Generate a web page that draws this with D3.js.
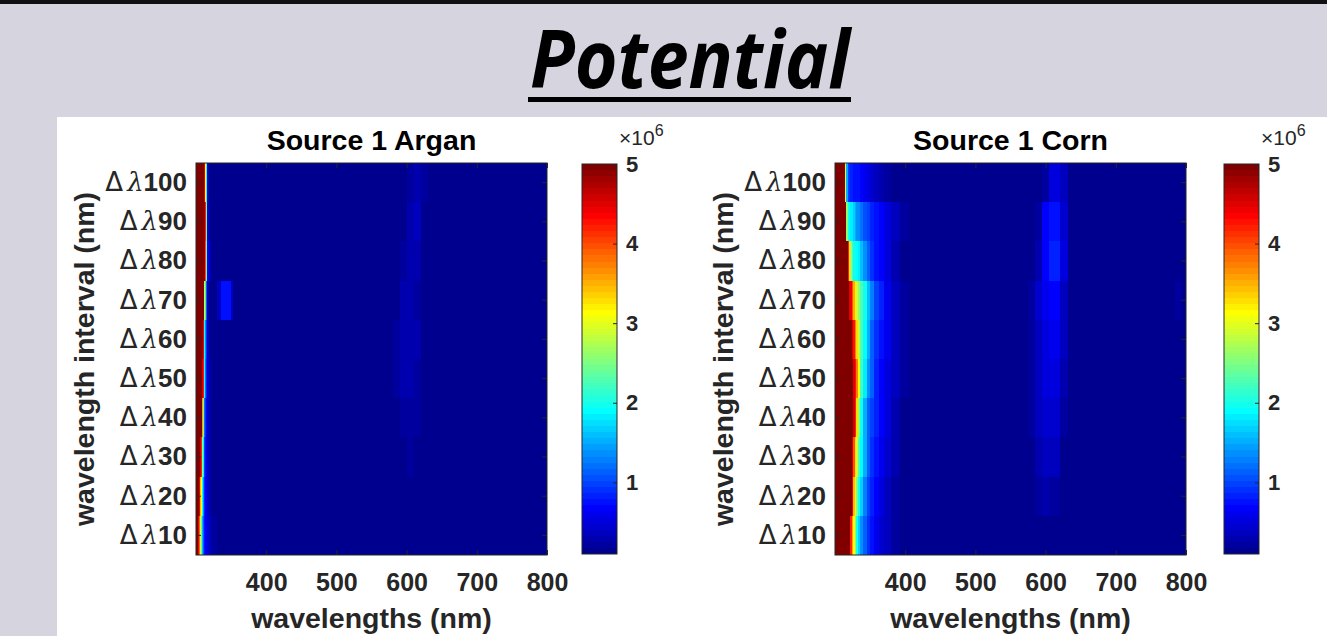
<!DOCTYPE html>
<html>
<head>
<meta charset="utf-8">
<script src="https://cdn.jsdelivr.net/npm/d3@7"></script>
<style>
  body { margin: 0; background: #d6d4df; }
  svg { display: block; font-family: "Liberation Sans", Arial, sans-serif; }
</style>
</head>
<body>
<svg id="chart" width="1327" height="636"></svg>
<script>
// rows of both maps, top to bottom (Δλ100 ... Δλ10)
const rowLabels = [100, 90, 80, 70, 60, 50, 40, 30, 20, 10];
const xTicks = [400, 500, 600, 700, 800];
const cbTicks = [1, 2, 3, 4, 5];
const cRange = [0.1, 5];   // colour limits, x10^6

// Source 1 Argan: left edge (nm) of each column, last column runs to 800
const arganWl = [300, 302, 303, 304, 305, 306, 307, 308, 309, 310, 311, 312, 313, 314, 315, 316, 318, 320, 323, 330, 335, 350, 353, 580, 590, 600, 610, 620, 630];
const arganRows = [
  [5.2, 5.2, 5.2, 5.2, 5.2, 5.2, 5.2, 5.2, 5.2, 5.2, 5.2, 4.6, 3.1, 1.9, 0.8, 0.3, 0.14, 0.12, 0.12, 0.12, 0.12, 0.12, 0.12, 0.12, 0.14, 0.25, 0.3, 0.18, 0.12],
  [5.2, 5.2, 5.2, 5.2, 5.2, 5.2, 5.2, 5.2, 5.2, 5.2, 5.2, 5.2, 4.2, 2.4, 1.2, 0.45, 0.18, 0.13, 0.12, 0.12, 0.12, 0.12, 0.12, 0.12, 0.15, 0.3, 0.33, 0.15, 0.12],
  [5.2, 5.2, 5.2, 5.2, 5.2, 5.2, 5.2, 5.2, 5.2, 5.2, 5.2, 5.2, 4.0, 2.4, 1.3, 0.7, 0.35, 0.2, 0.15, 0.12, 0.12, 0.12, 0.12, 0.12, 0.18, 0.32, 0.3, 0.14, 0.12],
  [5.2, 5.2, 5.2, 5.2, 5.2, 5.2, 5.2, 5.2, 5.2, 5.2, 4.4, 3.2, 2.0, 1.1, 0.6, 0.3, 0.16, 0.13, 0.12, 0.35, 0.72, 0.4, 0.12, 0.15, 0.3, 0.32, 0.2, 0.12, 0.12],
  [5.2, 5.2, 5.2, 5.2, 5.2, 5.2, 5.2, 5.2, 5.2, 4.4, 3.3, 2.0, 1.4, 0.9, 0.6, 0.4, 0.25, 0.17, 0.13, 0.12, 0.12, 0.12, 0.12, 0.25, 0.3, 0.3, 0.28, 0.12, 0.12],
  [5.2, 5.2, 5.2, 5.2, 5.2, 5.2, 5.2, 5.2, 4.6, 4.3, 3.2, 2.0, 1.2, 0.8, 0.6, 0.45, 0.3, 0.2, 0.14, 0.12, 0.12, 0.12, 0.12, 0.25, 0.3, 0.3, 0.25, 0.12, 0.12],
  [5.2, 5.2, 5.2, 5.2, 5.2, 5.2, 5.0, 4.4, 3.6, 2.6, 1.9, 1.2, 0.9, 0.7, 0.55, 0.4, 0.28, 0.2, 0.14, 0.12, 0.12, 0.12, 0.12, 0.15, 0.22, 0.25, 0.18, 0.12, 0.12],
  [5.2, 5.2, 5.2, 5.2, 5.2, 4.6, 4.2, 3.3, 2.6, 1.9, 1.4, 1.0, 0.75, 0.6, 0.5, 0.4, 0.3, 0.22, 0.15, 0.12, 0.12, 0.12, 0.12, 0.12, 0.15, 0.2, 0.15, 0.12, 0.12],
  [5.2, 5.2, 5.2, 4.5, 4.0, 3.4, 3.1, 2.4, 1.9, 1.4, 1.0, 0.8, 0.7, 0.6, 0.5, 0.4, 0.3, 0.22, 0.16, 0.12, 0.12, 0.12, 0.12, 0.12, 0.12, 0.14, 0.12, 0.12, 0.12],
  [5.2, 5.0, 4.4, 3.9, 3.3, 2.9, 2.3, 1.9, 1.5, 1.1, 0.9, 0.75, 0.65, 0.6, 0.5, 0.45, 0.35, 0.27, 0.2, 0.13, 0.12, 0.12, 0.12, 0.12, 0.12, 0.12, 0.12, 0.12, 0.12]
];

// Source 1 Corn
const cornWl = [300, 314, 316, 318, 320, 322, 324, 326, 328, 330, 333, 336, 340, 345, 350, 356, 362, 370, 380, 392, 405, 575, 585, 595, 605, 620, 632, 775, 785, 795];
const cornRows = [
  [5.2, 3.0, 1.5, 0.95, 0.88, 0.84, 0.8, 0.78, 0.76, 0.74, 0.72, 0.68, 0.6, 0.52, 0.45, 0.38, 0.3, 0.22, 0.16, 0.13, 0.12, 0.12, 0.12, 0.2, 0.5, 0.35, 0.12, 0.12, 0.13, 0.12],
  [5.2, 5.2, 2.6, 1.95, 1.9, 1.85, 1.8, 1.7, 1.5, 1.4, 1.35, 1.2, 1.05, 0.95, 0.8, 0.72, 0.65, 0.5, 0.35, 0.2, 0.12, 0.12, 0.25, 0.65, 0.78, 0.45, 0.12, 0.12, 0.14, 0.12],
  [5.2, 5.2, 5.0, 4.2, 3.3, 2.7, 2.2, 2.0, 1.95, 1.9, 1.8, 1.6, 1.35, 1.1, 0.9, 0.75, 0.65, 0.5, 0.3, 0.15, 0.12, 0.15, 0.3, 0.7, 0.8, 0.55, 0.12, 0.12, 0.15, 0.12],
  [5.2, 5.2, 5.2, 5.0, 4.5, 4.4, 4.0, 3.5, 3.2, 2.9, 2.6, 2.3, 2.0, 1.6, 1.25, 1.0, 0.8, 0.6, 0.35, 0.18, 0.12, 0.2, 0.45, 0.6, 0.65, 0.4, 0.12, 0.15, 0.2, 0.15],
  [5.2, 5.2, 5.2, 5.2, 5.1, 5.0, 4.6, 4.3, 3.7, 3.3, 2.8, 2.3, 1.9, 1.5, 1.15, 0.9, 0.75, 0.6, 0.4, 0.2, 0.12, 0.2, 0.4, 0.55, 0.6, 0.35, 0.12, 0.12, 0.14, 0.12],
  [5.2, 5.2, 5.2, 5.2, 5.2, 5.2, 5.0, 4.5, 4.3, 3.7, 3.1, 2.2, 1.8, 1.4, 1.1, 0.85, 0.7, 0.55, 0.35, 0.18, 0.12, 0.2, 0.4, 0.5, 0.55, 0.3, 0.12, 0.12, 0.13, 0.12],
  [5.2, 5.2, 5.2, 5.2, 5.2, 5.2, 5.2, 4.6, 4.2, 3.3, 2.6, 2.0, 1.5, 1.15, 0.95, 0.8, 0.65, 0.5, 0.3, 0.15, 0.12, 0.18, 0.35, 0.45, 0.45, 0.2, 0.12, 0.12, 0.13, 0.12],
  [5.2, 5.2, 5.2, 5.2, 5.2, 5.2, 4.6, 4.0, 3.3, 2.9, 2.3, 1.9, 1.5, 1.1, 0.9, 0.75, 0.6, 0.45, 0.28, 0.14, 0.12, 0.15, 0.3, 0.4, 0.35, 0.15, 0.12, 0.12, 0.12, 0.12],
  [5.2, 5.2, 5.2, 5.2, 5.2, 5.0, 4.4, 3.4, 3.0, 2.5, 2.0, 1.7, 1.3, 1.0, 0.85, 0.7, 0.55, 0.4, 0.25, 0.13, 0.12, 0.12, 0.2, 0.3, 0.25, 0.13, 0.12, 0.12, 0.12, 0.12],
  [5.2, 5.2, 5.2, 5.2, 5.0, 4.2, 3.6, 3.1, 2.6, 2.0, 1.7, 1.4, 1.1, 0.9, 0.75, 0.6, 0.45, 0.35, 0.22, 0.13, 0.12, 0.12, 0.14, 0.15, 0.14, 0.12, 0.12, 0.12, 0.12, 0.12]
];

const panels = [
  { title: 'Source 1 Argan', wl: arganWl, rows: arganRows, x0: 196, cb: 582 },
  { title: 'Source 1 Corn', wl: cornWl, rows: cornRows, x0: 835, cb: 1224 }
];

// matlab jet(64)
function jetColors(m) {
  const n = Math.ceil(m / 4);
  const u = [];
  for (let i = 1; i <= n; i++) u.push(i / n);
  for (let i = 1; i < n; i++) u.push(1);
  for (let i = n; i >= 1; i--) u.push(i / n);
  const g0 = Math.ceil(n / 2) - (m % 4 === 1 ? 1 : 0);
  const R = new Array(m).fill(0), G = new Array(m).fill(0), B = new Array(m).fill(0);
  u.forEach((v, k) => {
    const gi = g0 + k + 1, ri = gi + n, bi = gi - n;
    if (gi >= 1 && gi <= m) G[gi - 1] = v;
    if (ri >= 1 && ri <= m) R[ri - 1] = v;
    if (bi >= 1 && bi <= m) B[bi - 1] = v;
  });
  return d3.range(m).map(i => d3.rgb(R[i] * 255, G[i] * 255, B[i] * 255).formatHex());
}
const jet = jetColors(64);
const color = d3.scaleQuantize().domain(cRange).range(jet);

const ink = '#262626';
const svg = d3.select('#chart');

// slide background, top rule and white panel
svg.append('rect').attr('width', 1327).attr('height', 636).attr('fill', '#d6d4df');
svg.append('rect').attr('width', 1327).attr('height', 4).attr('fill', '#111');
svg.append('rect').attr('x', 57).attr('y', 117).attr('width', 1270).attr('height', 519).attr('fill', '#fff');

// slide title
svg.append('text')
  .attr('x', 690).attr('y', 88)
  .attr('text-anchor', 'middle')
  .attr('font-family', '"Open Sans", sans-serif')
  .attr('font-style', 'italic').attr('font-weight', 700)
  .attr('font-size', 80)
  .attr('textLength', 320).attr('lengthAdjust', 'spacingAndGlyphs')
  .attr('fill', '#000')
  .text('Potential');
svg.append('rect').attr('x', 528).attr('y', 97).attr('width', 323).attr('height', 5).attr('fill', '#000');

const W = 351, plotTop = 163, plotBottom = 555;
const cbW = 35, cbTop = 164, cbBottom = 554;

panels.forEach(p => {
  const x = d3.scaleLinear().domain([300, 800]).range([p.x0, p.x0 + W]);
  const y = d3.scaleBand().domain(rowLabels).range([plotTop, plotBottom]);
  const g = svg.append('g');

  // heat cells
  const cells = g.append('g').attr('shape-rendering', 'crispEdges');
  p.rows.forEach((vals, ri) => {
    vals.forEach((v, ci) => {
      const a = p.wl[ci];
      const b = ci < p.wl.length - 1 ? p.wl[ci + 1] : 800;
      cells.append('rect')
        .attr('x', x(a))
        .attr('y', y(rowLabels[ri]))
        .attr('width', x(b) - x(a))
        .attr('height', y.bandwidth())
        .attr('fill', color(v));
    });
  });

  // axes, ticks pointing inward
  const axB = g.append('g').attr('transform', `translate(0,${plotBottom})`)
    .call(d3.axisBottom(x).tickValues(xTicks).tickSizeInner(-5).tickSizeOuter(0).tickPadding(18));
  const axT = g.append('g').attr('transform', `translate(0,${plotTop})`)
    .call(d3.axisTop(x).tickValues(xTicks).tickSizeInner(-5).tickSizeOuter(0).tickFormat(''));
  const axL = g.append('g').attr('transform', `translate(${p.x0},0)`)
    .call(d3.axisLeft(y).tickSizeInner(-5).tickSizeOuter(0).tickPadding(9).tickFormat(''));
  const axR = g.append('g').attr('transform', `translate(${p.x0 + W},0)`)
    .call(d3.axisRight(y).tickSizeInner(-5).tickSizeOuter(0).tickFormat(''));
  [axB, axT, axL, axR].forEach(a => {
    a.select('.domain').remove();
    a.selectAll('line').attr('stroke', ink);
  });
  axB.selectAll('text').attr('fill', ink).attr('font-size', 25).attr('font-weight', 700);

  // Δλ tick labels
  axL.selectAll('.tick text').each(function (d) {
    const t = d3.select(this).attr('fill', ink).attr('font-size', 26);
    t.append('tspan').attr('font-family', '"DejaVu Sans", sans-serif').text('Δ');
    t.append('tspan').attr('font-family', '"DejaVu Serif", serif').attr('font-style', 'italic').attr('dx', 4).text('λ');
    t.append('tspan').attr('font-weight', 700).text(d);
  });

  g.append('rect')
    .attr('x', p.x0).attr('y', plotTop).attr('width', W).attr('height', plotBottom - plotTop)
    .attr('fill', 'none').attr('stroke', ink).attr('stroke-width', 1);

  // labels
  g.append('text').attr('x', p.x0 + W / 2).attr('y', 150).attr('text-anchor', 'middle')
    .attr('font-size', 28.5).attr('font-weight', 700).attr('fill', '#000').text(p.title);
  g.append('text').attr('x', p.x0 + W / 2).attr('y', 628).attr('text-anchor', 'middle')
    .attr('font-size', 28.5).attr('font-weight', 700).attr('fill', ink).text('wavelengths (nm)');
  g.append('text').attr('transform', `translate(${p.x0 - 102},${(plotTop + plotBottom) / 2}) rotate(-90)`)
    .attr('text-anchor', 'middle')
    .attr('font-size', 28.5).attr('font-weight', 700).attr('fill', ink).text('wavelength interval (nm)');

  // colorbar
  const cy = d3.scaleLinear().domain(cRange).range([cbBottom, cbTop]);
  const step = (cRange[1] - cRange[0]) / jet.length;
  const strip = g.append('g').attr('shape-rendering', 'crispEdges');
  jet.forEach((c, i) => {
    const lo = cRange[0] + i * step, hi = lo + step;
    strip.append('rect')
      .attr('x', p.cb).attr('y', cy(hi)).attr('width', cbW)
      .attr('height', cy(lo) - cy(hi)).attr('fill', c);
  });
  const axC = g.append('g').attr('transform', `translate(${p.cb + cbW},0)`)
    .call(d3.axisRight(cy).tickValues(cbTicks).tickSizeInner(-4).tickSizeOuter(0).tickPadding(9).tickFormat(d3.format('d')));
  axC.select('.domain').remove();
  axC.selectAll('line').attr('stroke', ink);
  axC.selectAll('text').attr('fill', ink).attr('font-size', 22).attr('font-weight', 700);
  g.append('rect')
    .attr('x', p.cb).attr('y', cbTop).attr('width', cbW).attr('height', cbBottom - cbTop)
    .attr('fill', 'none').attr('stroke', ink).attr('stroke-width', 1);
  const ex = g.append('text').attr('x', p.cb + 37).attr('y', 145).attr('fill', ink).attr('font-size', 21);
  ex.append('tspan').text('×10');
  ex.append('tspan').attr('dy', -9).attr('font-size', 16).text('6');
});
</script>
</body>
</html>
